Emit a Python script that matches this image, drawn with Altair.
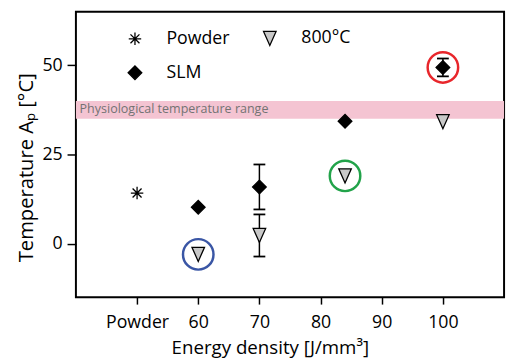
import altair as alt
import pandas as pd

# ---- data ----
series_names = ["Powder", "SLM", "800°C"]          # legend order (column-major)
powder_x = [50]
powder_y = [14.2]
slm_x = [60, 70, 84, 100]
slm_y = [10.2, 15.9, 34.3, 49.4]
t800_x = [60, 70, 84, 100]
t800_y = [-3.0, 2.3, 19.0, 34.2]

# error bars (x, centre, half-width)
err_x = [70, 70, 100]
err_c = [15.9, 2.3, 49.4]
err_h = [6.3, 5.9, 2.5]

# highlighted points
hl_names = ["SLM 100", "800°C 60", "800°C 84"]
hl_x = [100, 60, 84]
hl_y = [49.4, -3.0, 19.0]
hl_colors = ["#e8262b", "#3a56a5", "#22a34a"]

band_lo = [35]
band_hi = [40]
band_label = ["Physiological temperature range"]

x_ticks = [50, 60, 70, 80, 90, 100]
y_ticks = [0, 25, 50]

FONT = "Open Sans"
FS = 18

pts = pd.DataFrame({
    "x": powder_x + slm_x + t800_x,
    "y": powder_y + slm_y + t800_y,
    "series": ["Powder"] * len(powder_x) + ["SLM"] * len(slm_x) + ["800°C"] * len(t800_x),
})
err = pd.DataFrame({
    "x": err_x,
    "lo": [c - h for c, h in zip(err_c, err_h)],
    "hi": [c + h for c, h in zip(err_c, err_h)],
})
hl = pd.DataFrame({"name": hl_names, "x": hl_x, "y": hl_y})
band = pd.DataFrame({"lo": band_lo, "hi": band_hi, "label": band_label})

xs = alt.Scale(domain=[40, 110], nice=False, zero=False)
ys = alt.Scale(domain=[-15, 65], nice=False, zero=False)

x_axis = alt.Axis(
    values=x_ticks,
    labelExpr="datum.value == 50 ? 'Powder' : datum.label",
    title="Energy density [J/mm³]",
    grid=False, domain=False, tickColor="black", tickWidth=1.5, tickSize=7,
    labelFont=FONT, labelFontSize=FS, labelColor="black", labelPadding=10,
    titleFont=FONT, titleFontSize=19, titleColor="black", titleFontWeight="normal",
    titleX=197, titleY=57, titleBaseline="alphabetic", titleAlign="center",
)
y_axis = alt.Axis(
    values=y_ticks,
    title="Temperature Aₚ [°C]",
    grid=False, domain=False, tickColor="black", tickWidth=1.5, tickSize=9,
    labelFont=FONT, labelFontSize=FS, labelColor="black", labelPadding=5,
    titleFont=FONT, titleFontSize=20.5, titleColor="black", titleFontWeight="normal",
    titleX=-44, titleY=158, titleBaseline="alphabetic", titleAlign="center", titleAngle=-90,
)

band_rect = alt.Chart(band).mark_rect(color="#f4c4d2").encode(
    y=alt.Y("lo:Q", scale=ys, axis=y_axis),
    y2="hi:Q",
)
band_text = alt.Chart(band).mark_text(
    align="left", baseline="middle", font=FONT, fontSize=12.7, color="#737373"
).encode(
    x=alt.datum(40.6, scale=xs),
    y=alt.datum(37.7, scale=ys),
    text="label:N",
)

rules = alt.Chart(err).mark_rule(color="black", strokeWidth=1.5).encode(
    x=alt.X("x:Q", scale=xs, axis=x_axis),
    y=alt.Y("lo:Q", scale=ys),
    y2="hi:Q",
)
cap_lo = alt.Chart(err).mark_tick(orient="horizontal", color="black", size=12, thickness=1.8, opacity=1).encode(
    x=alt.X("x:Q", scale=xs), y=alt.Y("lo:Q", scale=ys)
)
cap_hi = alt.Chart(err).mark_tick(orient="horizontal", color="black", size=12, thickness=1.8, opacity=1).encode(
    x=alt.X("x:Q", scale=xs), y=alt.Y("hi:Q", scale=ys)
)

asterisk = "M0,-1L0,1M-1,0L1,0M-0.72,-0.72L0.72,0.72M-0.72,0.72L0.72,-0.72"
tri_down = "M-0.85,-0.95L0.85,-0.95L0,0.95Z"

legend = alt.Legend(
    title=None,
    direction="vertical",
    symbolStrokeWidth=1.3,
)

points = alt.Chart(pts).mark_point(
    strokeWidth=1.3, opacity=1, fillOpacity=1
).encode(
    x=alt.X("x:Q", scale=xs),
    y=alt.Y("y:Q", scale=ys),
    shape=alt.Shape("series:N", scale=alt.Scale(domain=series_names, range=[asterisk, "diamond", tri_down]), legend=legend),
    fill=alt.Fill("series:N", scale=alt.Scale(domain=series_names, range=["black", "black", "#c8c8c8"]), legend=legend),
    stroke=alt.Stroke("series:N", scale=alt.Scale(domain=series_names, range=["black", "black", "black"]), legend=legend),
    size=alt.Size("series:N", scale=alt.Scale(domain=series_names, range=[160, 225, 180]), legend=legend),
)

circle_layers = [
    alt.Chart(hl).transform_filter(alt.datum.name == nm).mark_point(
        shape="circle", size=960, strokeWidth=2.5, opacity=1, filled=False, stroke=col
    ).encode(
        x=alt.X("x:Q", scale=xs),
        y=alt.Y("y:Q", scale=ys),
    )
    for nm, col in zip(hl_names, hl_colors)
]

chart = alt.layer(band_rect, band_text, rules, cap_lo, cap_hi, points, *circle_layers).properties(
    width=435, height=290,
    autosize=alt.AutoSizeParams(type="none"),
    padding={"left": 69, "top": 1, "right": 4, "bottom": 63},
).configure_view(
    stroke="black", strokeWidth=2
).configure_legend(
    orient="none", legendX=51, legendY=18, columns=2, padding=0,
    labelFont=FONT, labelFontSize=FS, labelColor="black", labelOffset=23,
    rowPadding=15, columnPadding=31,
)

chart.save("out.html", embed_options={"renderer": "svg", "actions": False})
